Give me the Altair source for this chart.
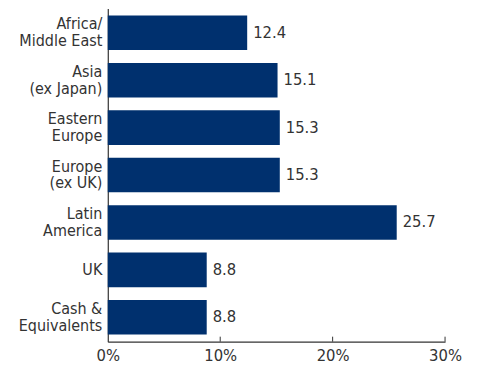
import altair as alt
import pandas as pd

categories = ["Africa/|Middle East", "Asia|(ex Japan)", "Eastern|Europe", "Europe|(ex UK)",
              "Latin|America", "UK", "Cash &|Equivalents"]
values = [12.4, 15.1, 15.3, 15.3, 25.7, 8.8, 8.8]
tick_values = [10, 20, 30]

df = pd.DataFrame({"cat": categories, "val": values})
ticks_df = pd.DataFrame({"t": tick_values})

FONT = "Liberation Sans Narrow, DejaVu Sans Condensed, sans-serif"
W, H = 338, 334
BAR = "#00306E"
TXT = "#333333"
FS = 16
LH = 17

y_enc = alt.Y("cat:N", sort=categories, title=None,
              scale=alt.Scale(paddingInner=0.27, paddingOuter=0.15),
              axis=alt.Axis(labelExpr="split(datum.label, '|')", ticks=False,
                            domainColor="#333333", domainWidth=1.2,
                            labelFont=FONT, labelFontSize=FS, labelColor=TXT,
                            labelLineHeight=LH, labelPadding=6, labelAlign="right",
                            labelBaseline="middle",
                            labelOffset={"condition": {"test": "indexof(datum.label, '|') >= 0",
                                                       "value": -LH / 2},
                                         "value": 0},
                            minExtent=100, maxExtent=100))
x_enc = alt.X("val:Q", title=None,
              scale=alt.Scale(domain=[0, 30], nice=False),
              axis=alt.Axis(values=[0, 10, 20, 30], labelExpr="datum.value + '%'",
                            tickSize=0, domainColor="#333333", domainWidth=1.2,
                            grid=False, labelFont=FONT, labelFontSize=16.5,
                            labelColor=TXT, labelPadding=6, labelFlush=False))

bars = alt.Chart(df).mark_bar(color=BAR).encode(y=y_enc, x=x_enc)
text = alt.Chart(df).mark_text(align="left", baseline="middle", dx=6, font=FONT,
                               fontSize=16.5, color=TXT).encode(
    y=alt.Y("cat:N", sort=categories),
    x=alt.X("val:Q"),
    text=alt.Text("val:Q", format=".1f"))
tick_rules = alt.Chart(ticks_df).mark_rule(color="#333333", strokeWidth=1).encode(
    x=alt.X("t:Q"), y=alt.value(H - 5), y2=alt.value(H))

chart = alt.layer(bars, text, tick_rules).properties(
    width=W, height=H, padding={"left": 0, "top": 0, "right": 10, "bottom": 0}
).configure_view(stroke=None)

chart.save("out.html", embed_options={"renderer": "svg", "actions": False})
